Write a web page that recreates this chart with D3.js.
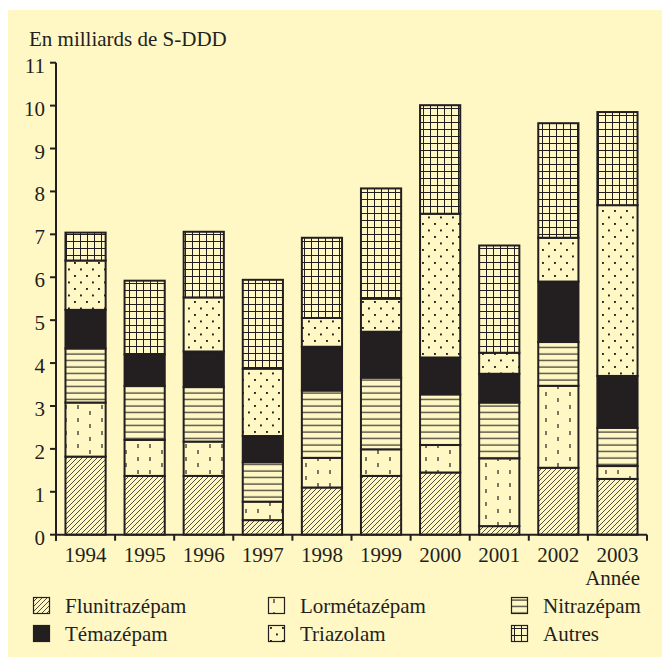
<!DOCTYPE html>
<html>
<head>
<meta charset="utf-8">
<script src="https://cdn.jsdelivr.net/npm/d3@7"></script>
<style>
  body { margin: 0; background: #fff; }
  svg text { font-family: 'Liberation Serif', 'DejaVu Serif', serif; fill: #231f20; }
</style>
</head>
<body>
<div id="chart"></div>
<script>
const years = ['1994', '1995', '1996', '1997', '1998', '1999', '2000', '2001', '2002', '2003']
const series = ['Flunitrazépam', 'Lormétazépam', 'Nitrazépam', 'Témazépam', 'Triazolam', 'Autres']
const flunitrazepam = [1.82, 1.37, 1.37, 0.34, 1.10, 1.37, 1.45, 0.20, 1.56, 1.30]
const lormetazepam = [1.26, 0.84, 0.80, 0.43, 0.69, 0.62, 0.64, 1.58, 1.91, 0.30]
const nitrazepam = [1.26, 1.26, 1.27, 0.92, 1.57, 1.67, 1.18, 1.30, 1.02, 0.89]
const temazepam = [0.90, 0.73, 0.83, 0.61, 1.02, 1.07, 0.86, 0.67, 1.41, 1.21]
const triazolam = [1.15, 0.00, 1.26, 1.57, 0.67, 0.77, 3.35, 0.49, 1.02, 3.98]
const autres = [0.65, 1.72, 1.53, 2.07, 1.87, 2.57, 2.53, 2.50, 2.67, 2.17]
const yTicks = [0, 1, 2, 3, 4, 5, 6, 7, 8, 9, 10, 11]

const W = 662, H = 661
const ink = '#231f20'
const bg = '#fff8c5'
const fs = 21

const rows = years.map((yr, i) => ({
  year: yr,
  'Flunitrazépam': flunitrazepam[i],
  'Lormétazépam': lormetazepam[i],
  'Nitrazépam': nitrazepam[i],
  'Témazépam': temazepam[i],
  'Triazolam': triazolam[i],
  'Autres': autres[i]
}))

const svg = d3.select('#chart').append('svg')
  .attr('width', W)
  .attr('height', H)

svg.append('rect')
  .attr('x', 8).attr('y', 10)
  .attr('width', W - 8).attr('height', 647)
  .attr('fill', bg)

// patterns
const defs = svg.append('defs')
const pat = (id, w, h) => {
  const p = defs.append('pattern')
    .attr('id', id)
    .attr('patternUnits', 'userSpaceOnUse')
    .attr('width', w).attr('height', h)
  p.append('rect').attr('width', w).attr('height', h).attr('fill', bg)
  return p
}
let p = pat('p-flu', 5, 5)
p.append('path').attr('d', 'M-1,6 L6,-1 M-1,1 L1,-1 M4,6 L6,4')
  .attr('stroke', ink).attr('stroke-width', 0.8)

p = pat('p-lor', 36, 26)
;[[6, 2], [18, 8], [30, 2], [6, 15], [18, 21], [30, 15]].forEach(([x, y]) => {
  p.append('line').attr('x1', x).attr('x2', x).attr('y1', y).attr('y2', y + 4)
    .attr('stroke', ink).attr('stroke-width', 1.2)
})

p = pat('p-nit', 10, 6.5)
p.append('line').attr('x1', 0).attr('x2', 10).attr('y1', 3).attr('y2', 3)
  .attr('stroke', ink).attr('stroke-width', 1.1)

p = pat('p-tri', 12, 13)
;[[2, 2], [8, 8.5]].forEach(([x, y]) => {
  p.append('rect').attr('x', x).attr('y', y).attr('width', 1.9).attr('height', 1.9).attr('fill', ink)
})

p = pat('p-aut', 7, 7)
p.append('path').attr('d', 'M3.5,0 V7 M0,3.5 H7')
  .attr('stroke', ink).attr('stroke-width', 1)

const fills = {
  'Flunitrazépam': 'url(#p-flu)',
  'Lormétazépam': 'url(#p-lor)',
  'Nitrazépam': 'url(#p-nit)',
  'Témazépam': ink,
  'Triazolam': 'url(#p-tri)',
  'Autres': 'url(#p-aut)'
}

const x = d3.scaleBand().domain(years).range([56, 647]).paddingInner(0.32).paddingOuter(0.16)
const y = d3.scaleLinear().domain([0, 11]).range([534.7, 62.7])

const stacked = d3.stack().keys(series)(rows)

svg.append('g').selectAll('g')
  .data(stacked).enter()
  .append('g')
  .attr('fill', d => fills[d.key])
  .selectAll('rect')
  .data(d => d.filter(s => s[1] - s[0] > 0)).enter()
  .append('rect')
  .attr('x', d => x(d.data.year))
  .attr('y', d => y(d[1]))
  .attr('width', x.bandwidth())
  .attr('height', d => y(d[0]) - y(d[1]))
  .attr('stroke', ink)
  .attr('stroke-width', 2)

// y axis
const yAxis = svg.append('g')
yAxis.append('line')
  .attr('x1', 56).attr('x2', 56)
  .attr('y1', y(11)).attr('y2', y(0) + 6)
  .attr('stroke', ink).attr('stroke-width', 2)
yAxis.selectAll('.tick').data(yTicks).enter()
  .append('line')
  .attr('x1', 50).attr('x2', 56)
  .attr('y1', d => y(d)).attr('y2', d => y(d))
  .attr('stroke', ink).attr('stroke-width', 2)
yAxis.selectAll('.lbl').data(yTicks).enter()
  .append('text')
  .attr('x', 45)
  .attr('y', d => y(d) + 10)
  .attr('text-anchor', 'end')
  .attr('font-size', fs)
  .text(d => d)

// x axis
const xAxis = svg.append('g')
xAxis.append('line')
  .attr('x1', 56).attr('x2', 647)
  .attr('y1', y(0)).attr('y2', y(0))
  .attr('stroke', ink).attr('stroke-width', 2)
const step = x.step()
xAxis.selectAll('.tick').data(d3.range(years.length + 1)).enter()
  .append('line')
  .attr('x1', i => 56 + i * step).attr('x2', i => 56 + i * step)
  .attr('y1', y(0)).attr('y2', y(0) + 6)
  .attr('stroke', ink).attr('stroke-width', 2)
xAxis.selectAll('.lbl').data(years).enter()
  .append('text')
  .attr('x', d => x(d) + x.bandwidth() / 2)
  .attr('y', 562)
  .attr('text-anchor', 'middle')
  .attr('font-size', fs)
  .text(d => d)

svg.append('text')
  .attr('x', 640).attr('y', 585)
  .attr('text-anchor', 'end')
  .attr('font-size', fs)
  .text('Année')

svg.append('text')
  .attr('x', 29).attr('y', 46)
  .attr('font-size', fs)
  .text('En milliards de S-DDD')

// legend
const legendPos = [[33, 597], [268, 597], [511, 597], [33, 625], [268, 625], [511, 625]]
const legend = svg.append('g').selectAll('g')
  .data(series).enter()
  .append('g')
  .attr('transform', (d, i) => `translate(${legendPos[i]})`)
legend.append('rect')
  .attr('x', 0.5).attr('y', 0.5)
  .attr('width', 16).attr('height', 16)
  .attr('fill', d => fills[d])
  .attr('stroke', ink).attr('stroke-width', 1.2)
legend.append('text')
  .attr('x', 32).attr('y', 16)
  .attr('font-size', fs)
  .text(d => d)
</script>
</body>
</html>
